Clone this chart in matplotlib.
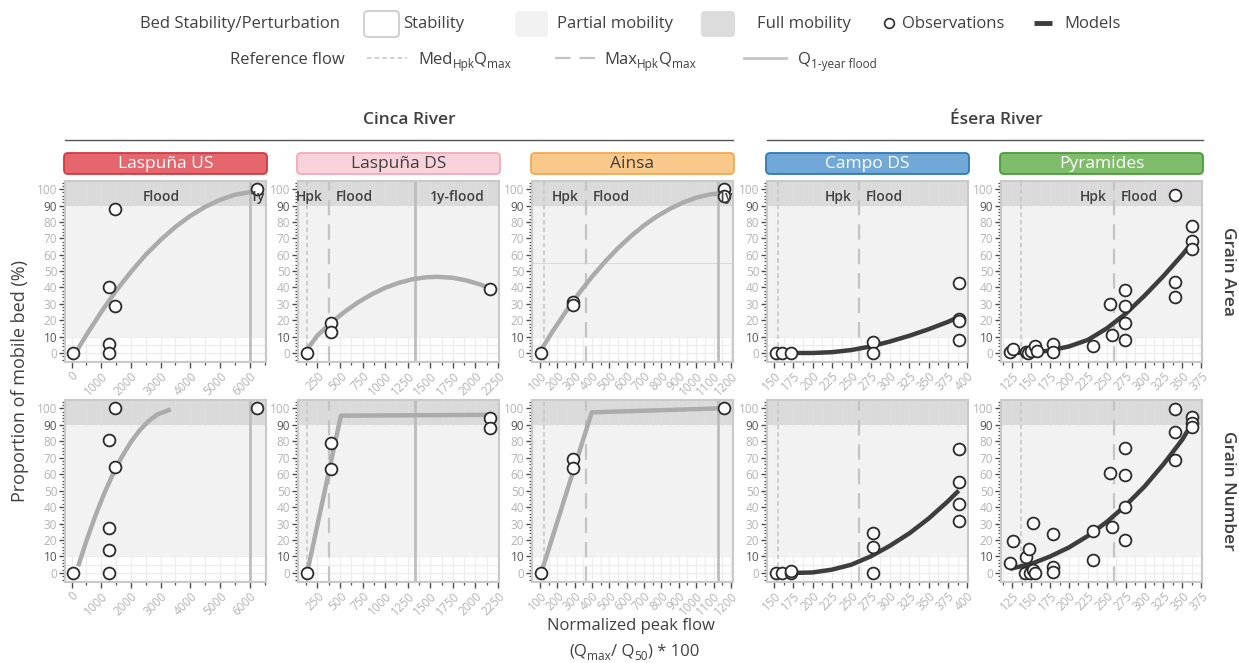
import numpy as np
import matplotlib
matplotlib.use("Agg")
import matplotlib.pyplot as plt
from matplotlib.patches import FancyBboxPatch
from matplotlib.lines import Line2D
from matplotlib.ticker import MultipleLocator
from matplotlib.transforms import IdentityTransform

plt.rcParams['font.family'] = ['Open Sans', 'DejaVu Sans']

# ---------------- data ----------------
sites = ["Laspuña US", "Laspuña DS", "Ainsa", "Campo DS", "Pyramides"]
rivers = ["Cinca River", "Ésera River"]
metrics = ["Grain Area", "Grain Number"]

# Observations: normalized peak flow (x) and proportion of mobile bed in % (y)
lus_area_x = [50, 1250, 1250, 1250, 1470, 1470, 6250]
lus_area_y = [0, 40, 5.5, 0, 88, 28.5, 100]
lus_num_x = [50, 1250, 1250, 1250, 1250, 1470, 1470, 6250]
lus_num_y = [0, 80.5, 27, 14, 0, 100, 64.5, 100]

lds_area_x = [136, 400, 400, 2160]
lds_area_y = [0, 18.3, 12.6, 39]
lds_num_x = [136, 400, 400, 2160, 2160]
lds_num_y = [0, 79, 63.3, 94, 88]

ain_area_x = [108, 292, 292, 1159, 1159]
ain_area_y = [0, 31, 29, 100, 96]
ain_num_x = [108, 292, 292, 1159]
ain_num_y = [0, 69, 64, 100]

cds_area_x = [153, 160, 172, 278, 278, 389, 389, 389, 389]
cds_area_y = [0, 0, 0, 6.5, 0, 43, 20.7, 19.3, 8.1]
cds_num_x = [153, 160, 172, 172, 278, 278, 278, 389, 389, 389, 389]
cds_num_y = [0, 0, 0, 1, 24, 15.6, 0, 75, 55, 42, 31.5]

pyr_area_x = [122, 126, 143, 146, 150, 155, 157, 179, 179, 232, 254, 257.5,
              274, 274, 274, 274, 340, 340, 340, 363, 363, 363]
pyr_area_y = [0.8, 2.4, 0.4, 0, 1.5, 4, 1, 5.3, 0.8, 4.5, 30, 11,
              38.5, 28.4, 18.3, 7.7, 96.3, 43.2, 34, 77.5, 68.6, 63.3]
pyr_num_x = [122, 126, 142.6, 142.4, 147.4, 148, 152.7, 152.7, 155, 179, 179, 179,
             232, 232, 254, 257.5, 274, 274, 274, 274, 340, 340, 340, 363, 363, 363]
pyr_num_y = [5.9, 19.1, 9.5, 0, 14.4, 0, 30.4, 1.8, 0, 23.7, 3.4, 0.8,
             25.4, 7.9, 60.9, 28, 75.7, 59.4, 40, 20.3, 99.6, 85.4, 68.4, 94.7, 91, 88.6]

# Fitted models (x, y)
lus_area_mx = [200, 500, 1000, 1500, 2000, 2500, 3000, 3500, 4000, 4500, 5000, 5500, 6200]
lus_area_my = [2, 11, 25, 38, 49.5, 60, 69, 77, 83.7, 89.2, 93.5, 96.6, 98.8]
lus_num_mx = [224, 500, 800, 1100, 1400, 1700, 2000, 2300, 2600, 2900, 3342]
lus_num_my = [4, 19.4, 34.6, 48.2, 60.3, 70.7, 79.5, 86.7, 92.3, 96.3, 99.3]

lds_area_mx = [133, 250, 400, 550, 700, 850, 1000, 1150, 1300, 1450, 1574, 1750, 1900, 2050, 2160]
lds_area_my = [2, 10.7, 18.4, 25.1, 30.9, 35.8, 39.8, 42.8, 45, 46.2, 46.5, 45.9, 44.3, 41.9, 39.5]
lds_num_mx = [136, 510, 2160]
lds_num_my = [0, 95.5, 96]

ain_area_mx = [108, 175, 250, 325, 400, 475, 550, 625, 700, 775, 850, 925, 1000, 1075, 1159]
ain_area_my = [2, 13.4, 25.3, 36.4, 46.5, 55.7, 64, 71.4, 77.9, 83.5, 88.1, 91.9, 94.8, 96.7, 97.9]
ain_num_mx = [108, 399, 1159]
ain_num_my = [0, 97.5, 100]

cds_area_mx = [153, 175, 200, 225, 250, 275, 300, 325, 350, 375, 389]
cds_area_my = [0, 0, 0, 0.5, 1.8, 4, 7, 10.5, 14.5, 19, 22]
cds_num_mx = [153, 175, 200, 225, 250, 275, 300, 325, 350, 375, 389]
cds_num_my = [0, 0, 0.3, 2, 5, 10, 16.5, 24, 33, 43.5, 50]

pyr_area_mx = [122, 150, 175, 200, 225, 250, 275, 300, 325, 350, 363]
pyr_area_my = [0, 0.3, 1.5, 4, 8, 15, 24, 35, 47, 60, 67.5]
pyr_num_mx = [122, 150, 175, 200, 225, 250, 275, 300, 325, 350, 363]
pyr_num_my = [2.5, 5.5, 10, 15.5, 22.5, 31, 41, 52.5, 66, 81, 91]

# Reference flows per site
med_hpk_q = [None, 136, 126, 155, 136]
max_hpk_q = [None, 380, 364, 260, 259]
q_1y = [6000, 1333, 1124, None, None]
q_1y_label = ["1y", "1y-flood", "1y", None, None]

obs = {
    (0, 0): (lus_area_x, lus_area_y), (0, 1): (lus_num_x, lus_num_y),
    (1, 0): (lds_area_x, lds_area_y), (1, 1): (lds_num_x, lds_num_y),
    (2, 0): (ain_area_x, ain_area_y), (2, 1): (ain_num_x, ain_num_y),
    (3, 0): (cds_area_x, cds_area_y), (3, 1): (cds_num_x, cds_num_y),
    (4, 0): (pyr_area_x, pyr_area_y), (4, 1): (pyr_num_x, pyr_num_y),
}
models = {
    (0, 0): (lus_area_mx, lus_area_my), (0, 1): (lus_num_mx, lus_num_my),
    (1, 0): (lds_area_mx, lds_area_my), (1, 1): (lds_num_mx, lds_num_my),
    (2, 0): (ain_area_mx, ain_area_my), (2, 1): (ain_num_mx, ain_num_my),
    (3, 0): (cds_area_mx, cds_area_my), (3, 1): (cds_num_mx, cds_num_my),
    (4, 0): (pyr_area_mx, pyr_area_my), (4, 1): (pyr_num_mx, pyr_num_my),
}

# ---------------- styling ----------------
W, H = 1239, 663
TXT = '#404040'
REF = '#c4c4c4'
strip_fc = ['#e5676d', '#f9d3db', '#f9c98b', '#72a8d8', '#7fbd6c']
strip_ec = ['#d03a42', '#f4a9b7', '#f2a950', '#2f7ab8', '#4c9b3d']
strip_tc = ['white', TXT, TXT, 'white', 'white']
model_col = ['#ababab', '#ababab', '#ababab', '#3d3d3d', '#3d3d3d']
xlims = [(-220, 6550), (35, 2261), (55, 1212), (141, 401), (110, 376)]
xmajor = [1000, 250, 100, 25, 25]
panel_left = [65, 298, 532, 767, 1001]
panel_w = 201
rows_px = [(181, 362), (400, 582)]

fig = plt.figure(figsize=(W / 100, H / 100), dpi=100)
IDT = IdentityTransform()


def fx(x):
    return x / W


def fy(y):
    return 1 - y / H


def rbox(x0, y0, x1, y1, fc, ec='none', r=4, lw=1.2):
    p = FancyBboxPatch((x0, H - y1), x1 - x0, y1 - y0,
                       boxstyle=f"round,pad=0,rounding_size={r}",
                       fc=fc, ec=ec, lw=lw, transform=IDT, zorder=3)
    fig.add_artist(p)


renderer = fig.canvas.get_renderer()


def rich(x, y, pieces, ha='left'):
    arts = [fig.text(0, 0, s, fontsize=fs, color=TXT) for s, fs, dy in pieces]
    widths = [a.get_window_extent(renderer).width for a in arts]
    x0 = x - sum(widths) / 2 if ha == 'center' else x
    for a, w, (s, fs, dy) in zip(arts, widths, pieces):
        a.set_position((fx(x0), fy(y + dy)))
        a.set_va('baseline')
        x0 += w


# ---------------- panels ----------------
for c in range(5):
    for r in range(2):
        top, bot = rows_px[r]
        ax = fig.add_axes([fx(panel_left[c]), fy(bot), panel_w / W, (bot - top) / H])
        x0, x1 = xlims[c]
        ax.set_xlim(x0, x1)
        ax.set_ylim(-5.5, 105)
        ax.set_facecolor('white')

        # light grid, then mobility bands
        for gx in MultipleLocator(xmajor[c] / 2).tick_values(x0, x1):
            ax.axvline(gx, color='#ececec', lw=0.9, zorder=0.2)
        for gy in np.arange(-5, 106, 5):
            ax.axhline(gy, color='#ececec', lw=0.9, zorder=0.2)
        ax.axhspan(10, 90, color='#f2f2f2', lw=0, zorder=0.5)
        ax.axhspan(90, 106, color='#dadada', lw=0, zorder=0.5)
        for gx in MultipleLocator(xmajor[c] / 2).tick_values(x0, x1):
            ax.plot([gx, gx], [90, 106], color='#dedede', lw=0.8, zorder=0.6)

        if c == 2 and r == 0:
            ax.axhline(55, color='#d6d6d6', lw=0.6, zorder=0.7)

        # reference flows
        if med_hpk_q[c] is not None:
            ax.axvline(med_hpk_q[c], color=REF, lw=1.1, ls=(0, (3, 2)), zorder=1)
        if max_hpk_q[c] is not None:
            ax.axvline(max_hpk_q[c], color=REF, lw=1.6, ls=(0, (7, 4)), zorder=1)
        if q_1y[c] is not None:
            ax.axvline(q_1y[c], color='#bdbdbd', lw=2, zorder=1)

        # model and observations
        mx, my = models[(c, r)]
        ax.plot(mx, my, color=model_col[c], lw=3.2, solid_capstyle='butt', zorder=3)
        ox, oy = obs[(c, r)]
        ax.plot(ox, oy, 'o', ms=8.5, mfc='white', mec='#2b2b2b', mew=1.3, zorder=4,
                clip_on=False)

        # region labels
        if r == 0:
            kw = dict(fontsize=10, fontweight='semibold', color=TXT, va='center', zorder=5)
            if max_hpk_q[c] is not None:
                ax.annotate('Hpk', xy=(max_hpk_q[c], 95), xytext=(-5, 0),
                            textcoords='offset points', ha='right', **kw)
                ax.annotate('Flood', xy=(max_hpk_q[c], 95), xytext=(5, 0),
                            textcoords='offset points', ha='left', **kw)
            else:
                ax.text(2400, 95, 'Flood', ha='left', **kw)
            if q_1y[c] is not None:
                ax.text((q_1y[c] + x1) / 2, 95, q_1y_label[c], ha='center', **kw)

        # axes styling
        for sp in ax.spines.values():
            sp.set_color('#c9c9c9')
            sp.set_linewidth(1.5)
        ax.xaxis.set_major_locator(MultipleLocator(xmajor[c]))
        ax.xaxis.set_minor_locator(MultipleLocator(xmajor[c] / 2))
        ax.yaxis.set_major_locator(MultipleLocator(10))
        ax.yaxis.set_minor_locator(MultipleLocator(2))
        ax.set_yticks(np.arange(0, 101, 10))
        ax.tick_params(which='major', length=4, width=1, color='#4d4d4d',
                       labelsize=8.5, labelcolor='#b3b3b3', pad=1.5)
        ax.tick_params(which='minor', length=2.5, width=0.9, color='#4d4d4d')
        ax.xaxis.set_major_formatter(matplotlib.ticker.FuncFormatter(lambda v, p: f"{v:g}"))
        plt.setp(ax.get_xticklabels(), rotation=45, ha='right', rotation_mode='anchor')
        for lab in ax.get_yticklabels():
            if lab.get_text() in ('10', '90'):
                lab.set_color('#555555')

    # strip with site name
    xl = panel_left[c]
    rbox(xl - 1, 153, xl + panel_w + 1, 174, strip_fc[c], strip_ec[c], r=4, lw=1.3)
    fig.text(fx(xl + panel_w / 2), fy(163.5), sites[c], ha='center', va='center',
             fontsize=12.5, fontweight='medium', color=strip_tc[c], zorder=4)

# river headers
fig.text(fx(409), fy(120), rivers[0], ha='center', va='center', fontsize=12.5,
         fontweight='semibold', color=TXT)
fig.text(fx(996), fy(120), rivers[1], ha='center', va='center', fontsize=12.5,
         fontweight='semibold', color=TXT)
fig.add_artist(Line2D([fx(65), fx(733)], [fy(140)] * 2, transform=fig.transFigure,
                      color='#555555', lw=1))
fig.add_artist(Line2D([fx(767), fx(1203)], [fy(140)] * 2, transform=fig.transFigure,
                      color='#555555', lw=1))

# row labels
for r, name in enumerate(metrics):
    top, bot = rows_px[r]
    fig.text(fx(1228), fy((top + bot) / 2), name, rotation=-90, ha='center', va='center',
             fontsize=12.5, fontweight='semibold', color=TXT)

# axis titles
fig.text(fx(20), fy(381), 'Proportion of mobile bed (%)', rotation=90, ha='center',
         va='center', fontsize=13, color=TXT)
fig.text(fx(631), fy(626), 'Normalized peak flow', ha='center', va='center',
         fontsize=12, color=TXT)
rich(634, 656, [('(Q', 12, 0), ('max', 8.5, 4), ('/ Q', 12, 0), ('50', 8.5, 4), (') * 100', 12, 0)],
     ha='center')

# ---------------- legend ----------------
LF = 12
fig.text(fx(340), fy(28), 'Bed Stability/Perturbation', ha='right', va='baseline',
         fontsize=LF, color=TXT)
rbox(364, 11, 399, 37, 'white', '#c8c8c8', r=4, lw=1.2)
fig.text(fx(403), fy(28), 'Stability', va='baseline', fontsize=LF, color=TXT)
rbox(515, 11, 548, 37, '#f2f2f2', 'none', r=4)
fig.text(fx(557), fy(28), 'Partial mobility', va='baseline', fontsize=LF, color=TXT)
rbox(701, 11, 735, 37, '#dcdcdc', 'none', r=4)
fig.text(fx(757), fy(28), 'Full mobility', va='baseline', fontsize=LF, color=TXT)
fig.add_artist(Line2D([fx(889)], [fy(23)], transform=fig.transFigure, marker='o', ms=7,
                      mfc='white', mec='#2b2b2b', mew=1.2, ls='none'))
fig.text(fx(902), fy(28), 'Observations', va='baseline', fontsize=LF, color=TXT)
fig.add_artist(Line2D([fx(1034), fx(1052)], [fy(23)] * 2, transform=fig.transFigure,
                      color='#3d3d3d', lw=3.5, solid_capstyle='butt'))
fig.text(fx(1064), fy(28), 'Models', va='baseline', fontsize=LF, color=TXT)

fig.text(fx(345), fy(64), 'Reference flow', ha='right', va='baseline', fontsize=LF, color=TXT)
fig.add_artist(Line2D([fx(367), fx(407)], [fy(58)] * 2, transform=fig.transFigure,
                      color=REF, lw=1.1, ls=(0, (3, 2))))
rich(418, 64, [('Med', LF, 0), ('Hpk', 8.5, 4), ('Q', LF, 0), ('max', 8.5, 4)])
fig.add_artist(Line2D([fx(555), fx(595)], [fy(58)] * 2, transform=fig.transFigure,
                      color=REF, lw=1.6, ls=(0, (7, 4))))
rich(604, 64, [('Max', LF, 0), ('Hpk', 8.5, 4), ('Q', LF, 0), ('max', 8.5, 4)])
fig.add_artist(Line2D([fx(744), fx(786)], [fy(58)] * 2, transform=fig.transFigure,
                      color=REF, lw=2))
rich(798, 64, [('Q', LF, 0), ('1-year flood', 8.5, 4)])

fig.savefig('out.png', dpi=100, facecolor='white')
